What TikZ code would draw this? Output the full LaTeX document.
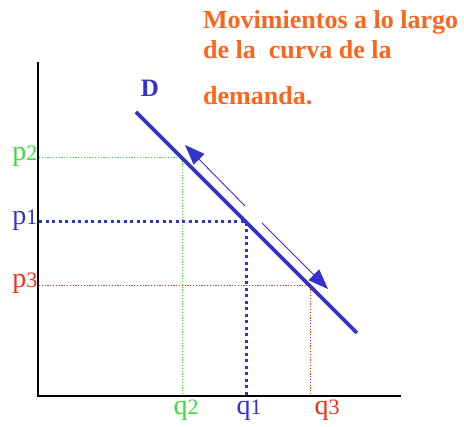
\documentclass[tikz,border=0pt]{standalone}
\usepackage{fontspec}
\setmainfont{Liberation Serif}
\usetikzlibrary{arrows.meta}
\definecolor{dblue}{RGB}{51,51,204}
\definecolor{lgreen}{RGB}{60,220,60}
\definecolor{lred}{RGB}{235,50,30}
\definecolor{orng}{RGB}{255,100,30}
\tikzset{
  axisline/.style={black,line width=1.6pt},
  greendot/.style={lgreen,line width=1pt,dash pattern=on 1.2pt off 1.6pt},
  reddot/.style={lred,line width=1pt,dash pattern=on 1.2pt off 1.6pt},
  bluedot/.style={dblue,line width=3pt,dash pattern=on 3pt off 3.5pt},
  demand/.style={dblue,line width=3.6pt},
  movearrow/.style={dblue,line width=0.9pt,-{Triangle[length=20pt,width=15pt]}},
  lbl/.style={inner sep=0pt,font=\fontsize{28}{28}\selectfont},
  title/.style={inner sep=0pt,anchor=west,text=orng,font=\fontsize{26}{26}\selectfont\bfseries}
}
\newcommand{\sublbl}[2]{#1{\fontsize{22}{22}\selectfont #2}}
\begin{document}
\begin{tikzpicture}[x=1pt,y=-1pt]
\useasboundingbox (0,0) rectangle (464,427);
% axes
\coordinate (O) at (38,396);
\coordinate (ytop) at (38,62);
\coordinate (xend) at (401,396);
\draw[axisline] (ytop) -- (O) -- (xend);
% points on demand
\coordinate (A2) at (182,158);
\coordinate (A1) at (246,222);
\coordinate (A3) at (310,286);
\coordinate (Dstart) at (136,112);
\coordinate (Dend) at (357,333);
% axis feet
\coordinate (yp2) at (39,158);
\coordinate (yp1) at (39,222);
\coordinate (yp3) at (39,286);
\coordinate (xq2) at (182,395);
\coordinate (xq1) at (246,395);
\coordinate (xq3) at (310,395);
% dotted guides
\draw[greendot] (yp2) -- (A2) -- (xq2);
\draw[reddot] (yp3) -- (A3) -- (xq3);
\draw[bluedot] (yp1) -- (A1) -- (xq1);
% demand curve
\draw[demand] (Dstart) -- (Dend);
% movement arrows
\coordinate (u1) at (245,206);
\coordinate (u2) at (185,145);
\coordinate (l1) at (262,223);
\coordinate (l2) at (328,289);
\draw[movearrow] (u1) -- (u2);
\draw[movearrow] (l1) -- (l2);
% labels
\node[lbl,text=dblue,font=\fontsize{25}{25}\selectfont\bfseries] (D) at (150,88) {D};
\node[lbl,text=lgreen] (p2) at (25,156) {\sublbl{p}{2}};
\node[lbl,text=dblue] (p1) at (25,220) {\sublbl{p}{1}};
\node[lbl,text=lred] (p3) at (25,283) {\sublbl{p}{3}};
\node[lbl,text=lgreen] (q2) at (186,410) {\sublbl{q}{2}};
\node[lbl,text=dblue] (q1) at (249,410) {\sublbl{q}{1}};
\node[lbl,text=lred] (q3) at (327,410) {\sublbl{q}{3}};
% title
\node[title] (t1) at (203,22) {Movimientos a lo largo};
\node[title] (t2) at (203,50) {de la\ \ curva de la};
\node[title] (t3) at (203,96) {demanda.};
\end{tikzpicture}
\end{document}
